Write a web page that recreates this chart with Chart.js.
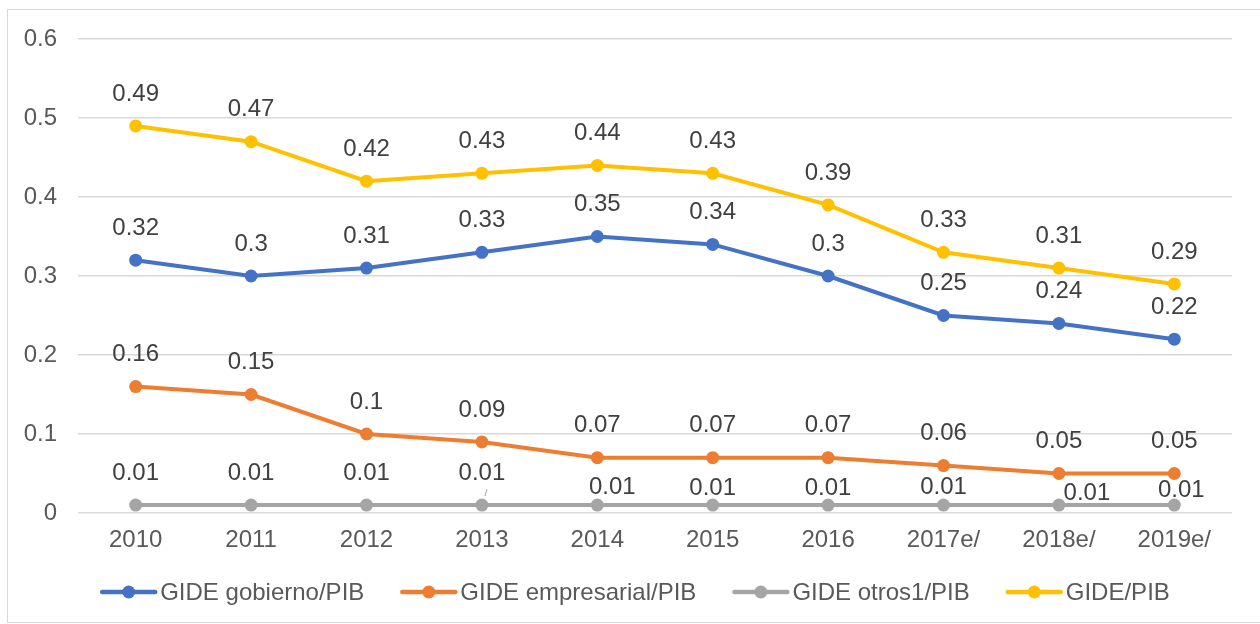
<!DOCTYPE html>
<html>
<head>
<meta charset="utf-8">
<script src="https://cdn.jsdelivr.net/npm/chart.js@4"></script>
<style>
  html, body { margin: 0; padding: 0; background: #fff; overflow: hidden; }
  #frame { position: absolute; left: 7px; top: 9px; width: 1270px; height: 612px; border: 1px solid #d9d9d9; }
  #chart { position: absolute; left: 0; top: 0; display: block; }
</style>
</head>
<body>
<div id="frame"></div>
<canvas id="chart" width="1260" height="624"></canvas>
<script>
// GIDE / PIB series
const years = ['2010', '2011', '2012', '2013', '2014', '2015', '2016', '2017e/', '2018e/', '2019e/'];
const gobierno = [0.32, 0.3, 0.31, 0.33, 0.35, 0.34, 0.3, 0.25, 0.24, 0.22];
const empresarial = [0.16, 0.15, 0.1, 0.09, 0.07, 0.07, 0.07, 0.06, 0.05, 0.05];
const otros = [0.01, 0.01, 0.01, 0.01, 0.01, 0.01, 0.01, 0.01, 0.01, 0.01];
const total = [0.49, 0.47, 0.42, 0.43, 0.44, 0.43, 0.39, 0.33, 0.31, 0.29];
const yTicks = [0, 0.1, 0.2, 0.3, 0.4, 0.5, 0.6];

const FONT = "'Liberation Sans', Arial, sans-serif";
const colors = ['#4472c4', '#ed7d31', '#a5a5a5', '#ffc000'];

// label nudges for the grey series (crowded at the bottom)
const greyShift = { 4: [15, 14], 5: [0, 15], 6: [0, 15], 7: [0, 14], 8: [28, 20], 9: [7, 17] };

const valueLabels = {
  id: 'valueLabels',
  afterDatasetsDraw(chart) {
    const ctx = chart.ctx;
    ctx.save();
    ctx.font = '24px ' + FONT;
    ctx.fillStyle = '#404040';
    ctx.textAlign = 'center';
    ctx.textBaseline = 'middle';
    chart.data.datasets.forEach((ds, i) => {
      chart.getDatasetMeta(i).data.forEach((pt, j) => {
        let dx = 0, dy = 0;
        if (i === 2 && greyShift[j]) { dx = greyShift[j][0]; dy = greyShift[j][1]; }
        ctx.fillText(String(ds.data[j]), pt.x + dx, pt.y - 32 + dy);
      });
    });
    // small leader line at the 2013 grey label
    const p = chart.getDatasetMeta(2).data[3];
    ctx.strokeStyle = '#a5a5a5'; ctx.lineWidth = 1;
    ctx.beginPath(); ctx.moveTo(p.x + 5, p.y - 16); ctx.lineTo(p.x + 3, p.y - 9); ctx.stroke();
    ctx.restore();
  }
};

// bottom legend: line + dot marker, then the name
const lineLegend = {
  id: 'lineLegend',
  afterDraw(chart) {
    const ctx = chart.ctx;
    const y = 592, mw = 57, gap = 3, space = 36;
    ctx.save();
    ctx.font = '24px ' + FONT;
    ctx.textBaseline = 'middle';
    const items = chart.data.datasets.map((ds, i) => ({ text: ds.label, color: colors[i], w: ctx.measureText(ds.label).width }));
    const totalW = items.reduce((s, it) => s + mw + gap + it.w, 0) + space * (items.length - 1);
    let x = 635 - totalW / 2;
    items.forEach(it => {
      ctx.strokeStyle = it.color; ctx.lineWidth = 4.5; ctx.lineCap = 'round';
      ctx.beginPath(); ctx.moveTo(x + 2, y); ctx.lineTo(x + mw - 2, y); ctx.stroke();
      ctx.fillStyle = it.color;
      ctx.beginPath(); ctx.arc(x + mw / 2, y, 6.5, 0, Math.PI * 2); ctx.fill();
      ctx.fillStyle = '#595959';
      ctx.fillText(it.text, x + mw + gap, y + 1);
      x += mw + gap + it.w + space;
    });
    ctx.restore();
  }
};

function series(label, data, color) {
  return {
    label, data,
    borderColor: color, backgroundColor: color,
    borderWidth: 4, pointRadius: 6.5, pointHoverRadius: 6.5,
    pointBackgroundColor: color, pointBorderColor: color, pointBorderWidth: 0,
    tension: 0, fill: false
  };
}

new Chart(document.getElementById('chart').getContext('2d'), {
  type: 'line',
  data: {
    labels: years,
    datasets: [
      series('GIDE gobierno/PIB', gobierno, colors[0]),
      series('GIDE empresarial/PIB', empresarial, colors[1]),
      series('GIDE otros1/PIB', otros, colors[2]),
      series('GIDE/PIB', total, colors[3])
    ]
  },
  options: {
    responsive: false,
    animation: false,
    layout: { padding: { left: 0, right: 28, top: 39, bottom: 71 } },
    plugins: {
      tooltip: { enabled: false },
      legend: { display: false }
    },
    scales: {
      x: {
        offset: true,
        grid: { display: false, drawTicks: false, offset: true },
        border: { display: false },
        afterFit(scale) { scale.height = 40; },
        ticks: { color: '#595959', font: { family: FONT, size: 24 }, padding: 13, maxRotation: 0 }
      },
      y: {
        min: 0, max: 0.6,
        afterBuildTicks(scale) { scale.ticks = yTicks.map(v => ({ value: v })); },
        afterFit(scale) { scale.width = 78; },
        grid: { color: '#d9d9d9', lineWidth: 1.5, drawTicks: false },
        border: { display: false },
        ticks: {
          color: '#595959', font: { family: FONT, size: 24 }, padding: 21,
          callback: v => String(Math.round(v * 10) / 10)
        }
      }
    }
  },
  plugins: [valueLabels, lineLegend]
});
</script>
</body>
</html>
